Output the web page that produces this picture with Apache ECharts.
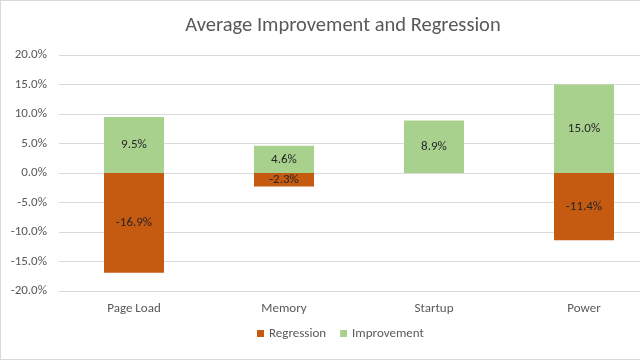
<!DOCTYPE html>
<html><head><meta charset="utf-8">
<script src="https://cdn.jsdelivr.net/npm/echarts@6/dist/echarts.min.js"></script>
<style>
html,body{margin:0;padding:0;background:#fff;}
#wrap{width:640px;height:360px;box-sizing:border-box;border:1px solid #d9d9d9;border-right:none;overflow:hidden;}
#c{width:680px;height:358px;}
</style></head>
<body><div id="wrap"><div id="c"></div></div>
<script>
const categories = ['Page Load', 'Memory', 'Startup', 'Power'];
const regression = [-16.9, -2.3, null, -11.4];
const improvement = [9.5, 4.6, 8.9, 15.0];
const yTicks = [-20, -15, -10, -5, 0, 5, 10, 15, 20];

const chart = echarts.init(document.getElementById('c'));
const font = 'Calibri, Carlito, Lato, sans-serif';
const lbl = {show: true, position: 'inside', color: '#262626', fontSize: 13, fontFamily: font,
  formatter: p => p.value == null ? '' : p.value.toFixed(1) + '%'};
chart.setOption({
  animation: false,
  title: {text: 'Average Improvement and Regression', left: 337, textAlign: 'center', top: 9,
    textStyle: {fontFamily: font, fontWeight: 'normal', fontSize: 20.5, color: '#595959'}},
  legend: {bottom: 14, left: 251, itemWidth: 7, itemHeight: 7, itemGap: 14,
    icon: 'rect', textStyle: {fontFamily: font, fontSize: 13, color: '#595959'},
    data: ['Regression', 'Improvement']},
  grid: {left: 58, top: 54, right: 22, bottom: 68},
  xAxis: {type: 'category', data: categories, axisLine: {show: false}, axisTick: {show: false},
    axisLabel: {color: '#595959', fontFamily: font, fontSize: 13, margin: 11}},
  yAxis: {type: 'value', min: yTicks[0], max: yTicks[yTicks.length - 1], interval: 5,
    axisLabel: {formatter: v => v.toFixed(1) + '%', color: '#595959', fontFamily: font, fontSize: 13, margin: 12},
    splitLine: {lineStyle: {color: '#d9d9d9', width: 1}}, axisLine: {show: false}, axisTick: {show: false}},
  series: [
    {name: 'Regression', type: 'bar', stack: 's', data: regression, barWidth: 60,
      itemStyle: {color: '#C55A11'}, label: lbl},
    {name: 'Improvement', type: 'bar', stack: 's', data: improvement, barWidth: 60,
      itemStyle: {color: '#A9D18E'}, label: lbl}
  ]
});
</script></body></html>
